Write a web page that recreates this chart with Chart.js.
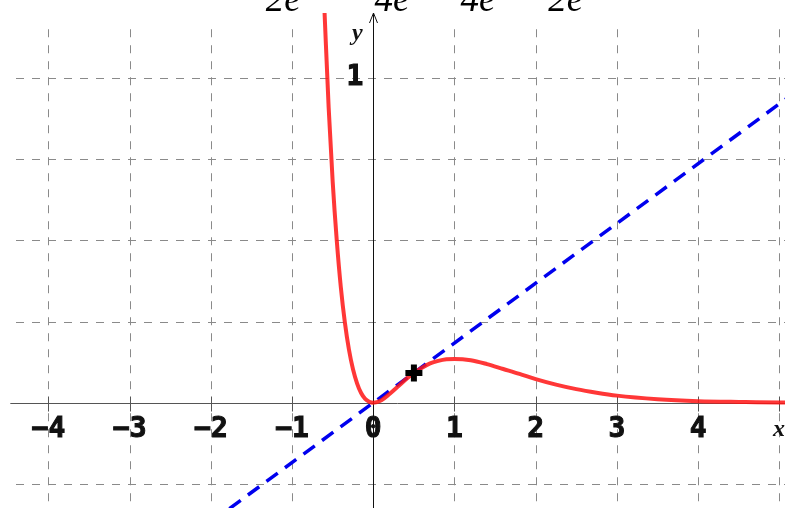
<!DOCTYPE html>
<html>
<head>
<meta charset="utf-8">
<script src="https://cdn.jsdelivr.net/npm/chart.js@4/dist/chart.umd.min.js"></script>
<style>
  html, body { margin: 0; padding: 0; background: #fff; }
  #wrap { width: 785px; height: 508px; }
</style>
</head>
<body>
<div id="wrap"><canvas id="grafico" width="785" height="508"></canvas></div>
<script>
// ticks del eje x y lineas de la grilla horizontal
const xTicks = [-4, -3, -2, -1, 0, 1, 2, 3, 4, 5];
const xTickLabels = ["−4", "−3", "−2", "−1", "0", "1", "2", "3", "4", ""];
const yGrid = [-0.25, 0, 0.25, 0.5, 0.75, 1];
const yTickLabels = ["1"];

// curva roja
const curvaX = [-0.6, -0.55, -0.5, -0.45, -0.4, -0.35, -0.3, -0.25, -0.2, -0.15, -0.1, -0.05, 0,
  0.1, 0.2, 0.3, 0.4, 0.5, 0.6, 0.7, 0.8, 0.9, 1.0, 1.2, 1.4, 1.6, 1.8, 2.0, 2.25, 2.5, 2.75,
  3.0, 3.5, 4.0, 4.5, 5.0, 5.1];
const curvaY = [1.2, 0.91, 0.68, 0.5, 0.356, 0.247, 0.164, 0.103, 0.06, 0.03, 0.012, 0.003, 0,
  0.008, 0.027, 0.049, 0.072, 0.092, 0.108, 0.121, 0.129, 0.134, 0.135, 0.131, 0.119, 0.104,
  0.089, 0.073, 0.056, 0.042, 0.031, 0.022, 0.011, 0.005, 0.0025, 0.001, 0.001];

// recta tangente (azul, punteada)
const rectaX = [-2, 5.2];
const rectaY = [-0.368, 0.957];

// punto de tangencia
const puntoX = [0.5];
const puntoY = [0.092];

// textos cortados arriba
const textosArriba = ["2e", "4e", "4e", "2e"];

const toXY = (xs, ys) => xs.map((x, i) => ({ x, y: ys[i] }));

const fondoEjes = {
  id: "fondoEjes",
  beforeDatasetsDraw(chart) {
    const { ctx, scales: { x, y }, chartArea: a } = chart;
    const x0 = x.getPixelForValue(0);
    const y0 = y.getPixelForValue(0);
    ctx.save();

    // grilla punteada
    ctx.strokeStyle = "#8a8a8a";
    ctx.lineWidth = 1;
    ctx.setLineDash([8, 8]);
    const topGrid = y.getPixelForValue(1.15);
    xTicks.forEach((v) => {
      const px = Math.round(x.getPixelForValue(v)) + 0.5;
      ctx.beginPath();
      ctx.moveTo(px, topGrid);
      ctx.lineTo(px, a.bottom);
      ctx.stroke();
    });
    const leftGrid = x.getPixelForValue(-4.4);
    yGrid.forEach((v) => {
      const py = Math.round(y.getPixelForValue(v)) + 0.5;
      ctx.beginPath();
      ctx.moveTo(leftGrid, py);
      ctx.lineTo(a.right, py);
      ctx.stroke();
    });
    ctx.setLineDash([]);

    // eje x
    const py0 = Math.round(y0) + 0.5;
    ctx.strokeStyle = "#555";
    ctx.beginPath();
    ctx.moveTo(x.getPixelForValue(-4.47), py0);
    ctx.lineTo(a.right, py0);
    ctx.stroke();

    // marcas del eje x
    xTicks.forEach((v) => {
      const px = Math.round(x.getPixelForValue(v)) + 0.5;
      ctx.beginPath();
      ctx.moveTo(px, py0 - 7);
      ctx.lineTo(px, py0 + 8);
      ctx.stroke();
    });

    // eje y con flecha
    const px0 = Math.round(x0) + 0.5;
    const tip = 13;
    ctx.strokeStyle = "#111";
    ctx.beginPath();
    ctx.moveTo(px0, a.bottom);
    ctx.lineTo(px0, tip);
    ctx.moveTo(px0 - 4, tip + 10);
    ctx.lineTo(px0, tip);
    ctx.lineTo(px0 + 4, tip + 10);
    ctx.stroke();

    // etiquetas de los ticks (con un trazo fino para que queden mas gruesas)
    ctx.fillStyle = "#111";
    ctx.strokeStyle = "#111";
    ctx.lineWidth = 1;
    ctx.font = 'bold 28px "DejaVu Sans Mono"';
    ctx.textAlign = "center";
    ctx.textBaseline = "middle";
    xTicks.forEach((v, i) => {
      const px = x.getPixelForValue(v);
      ctx.fillText(xTickLabels[i], px, y0 + 27);
      ctx.strokeText(xTickLabels[i], px, y0 + 27);
    });
    ctx.textAlign = "right";
    ctx.fillText(yTickLabels[0], x0 - 10, y.getPixelForValue(1));
    ctx.strokeText(yTickLabels[0], x0 - 10, y.getPixelForValue(1));

    // nombres de los ejes
    ctx.font = 'italic bold 24px "Liberation Serif"';
    ctx.textAlign = "center";
    ctx.fillText("y", x0 - 16, 34);
    ctx.fillText("x", 779, y0 + 27);
    ctx.restore();
  },
  afterDraw(chart) {
    const { ctx, scales: { x } } = chart;
    const posX = [-1.11, 0.23, 1.29, 2.37];
    ctx.save();
    ctx.fillStyle = "#000";
    ctx.font = 'italic 37px "Liberation Serif"';
    ctx.textAlign = "center";
    ctx.textBaseline = "alphabetic";
    textosArriba.forEach((t, i) => ctx.fillText(t, x.getPixelForValue(posX[i]), 11));
    ctx.restore();
  },
};

new Chart(document.getElementById("grafico"), {
  type: "scatter",
  data: {
    datasets: [
      {
        data: toXY(rectaX, rectaY),
        showLine: true,
        borderColor: "#0000ee",
        borderWidth: 3.5,
        borderDash: [14, 9],
        pointRadius: 0,
        order: 3,
      },
      {
        data: toXY(curvaX, curvaY),
        showLine: true,
        borderColor: "rgba(255, 20, 20, 0.85)",
        borderWidth: 4,
        cubicInterpolationMode: "monotone",
        pointRadius: 0,
        order: 2,
      },
      {
        data: toXY(puntoX, puntoY),
        pointStyle: "cross",
        pointRadius: 8.5,
        borderWidth: 6,
        borderColor: "#000",
        backgroundColor: "#000",
        order: 1,
      },
    ],
  },
  options: {
    responsive: false,
    devicePixelRatio: 1,
    animation: false,
    layout: { padding: 0, autoPadding: false },
    scales: {
      x: { type: "linear", min: -4.597, max: 5.07, display: false },
      y: { type: "linear", min: -0.324, max: 1.24, display: false },
    },
    plugins: {
      legend: { display: false },
      tooltip: { enabled: false },
    },
  },
  plugins: [fondoEjes],
});
</script>
</body>
</html>
